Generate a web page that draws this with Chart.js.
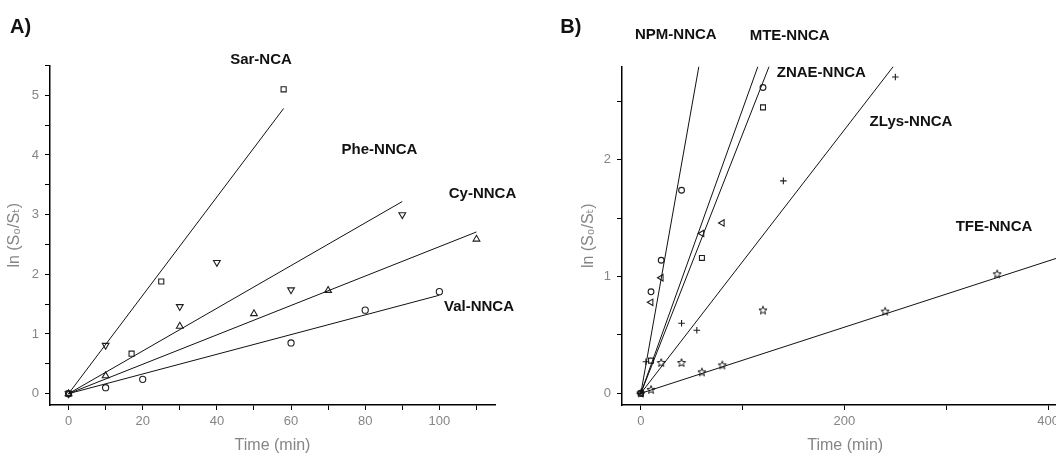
<!DOCTYPE html>
<html>
<head>
<meta charset="utf-8">
<script src="https://cdn.jsdelivr.net/npm/chart.js@4.4.1/dist/chart.umd.min.js"></script>
<style>
  html, body { margin: 0; padding: 0; background: #fff; overflow: hidden; width: 1056px; height: 455px; }
  #wrapA { position: absolute; left: 0; top: 0; width: 528px; height: 455px; }
  #wrapB { position: absolute; left: 528px; top: 0; width: 560px; height: 455px; }
  canvas { display: block; }
</style>
</head>
<body>
<div id="wrapA"><canvas id="chartA" width="528" height="455"></canvas></div>
<div id="wrapB"><canvas id="chartB" width="560" height="455"></canvas></div>
<script>
// ---------- Panel A: first-order kinetics of four monomers ----------
const namesA = ['Sar-NCA', 'Phe-NNCA', 'Cy-NNCA', 'Val-NNCA'];
// measured points [time (min), ln(S0/St)]
const sarNCA  = [[0, 0], [17, 0.67], [25, 1.88], [58, 5.10]];
const pheNNCA = [[0, 0], [10, 0.81], [30, 1.46], [40, 2.20], [60, 1.74], [90, 3.00]];
const cyNNCA  = [[0, 0], [10, 0.30], [30, 1.13], [50, 1.34], [70, 1.73], [110, 2.59]];
const valNNCA = [[0, 0], [10, 0.10], [20, 0.24], [60, 0.85], [80, 1.40], [100, 1.71]];
// linear fits (start, end)
const sarFit = [[0, 0], [58, 4.78]];
const pheFit = [[0, 0], [90, 3.22]];
const cyFit  = [[0, 0], [110, 2.71]];
const valFit = [[0, 0], [100, 1.65]];
// axis ticks
const xTicksA = [0, 10, 20, 30, 40, 50, 60, 70, 80, 90, 100, 110];
const xLabelsA = [0, 20, 40, 60, 80, 100];
const yTicksA = [0, 0.5, 1, 1.5, 2, 2.5, 3, 3.5, 4, 4.5, 5, 5.5];
const yLabelsA = [0, 1, 2, 3, 4, 5];

// ---------- Panel B: first-order kinetics of five monomers ----------
const namesB = ['NPM-NNCA', 'MTE-NNCA', 'ZNAE-NNCA', 'ZLys-NNCA', 'TFE-NNCA'];
const npmNNCA   = [[0, 0], [10, 0.87], [20, 1.14], [40, 1.74]];
const mteNNCA   = [[0, 0], [10, 0.78], [20, 0.99], [60, 1.37], [80, 1.46]];
const znaeNNCA  = [[0, 0], [10, 0.28], [60, 1.16], [120, 2.45]];
const znaeRun2  = [[120, 2.62]];
const zlysNNCA  = [[0, 0], [5, 0.27], [40, 0.60], [55, 0.54], [140, 1.82], [250, 2.71]];
const tfeNNCA   = [[0, 0], [10, 0.03], [20, 0.26], [40, 0.26], [60, 0.18], [80, 0.24], [120, 0.71], [240, 0.70], [350, 1.02]];
const npmFit  = [[0, 0], [57, 2.8]];
const mteFit  = [[0, 0], [115, 2.8]];
const znaeFit = [[0, 0], [126, 2.8]];
const zlysFit = [[0, 0], [248, 2.8]];
const tfeFit  = [[0, 0], [420, 1.19]];
const xTicksB = [0, 100, 200, 300, 400];
const xLabelsB = [0, 200, 400];
const yTicksB = [0, 0.5, 1, 1.5, 2, 2.5];
const yLabelsB = [0, 1, 2];

const yTitle = 'ln (S\u2080/S\u209C)';
const xTitle = 'Time (min)';

// ---------- shared styling ----------
const FONT = "'Liberation Sans', Arial, 'DejaVu Sans', sans-serif";
const GREY = '#858585';
const INK = '#111111';

const toXY = arr => arr.map(([x, y]) => ({ x, y }));

// hollow five-pointed star marker
function makeStar(outer, inner) {
  const s = Math.ceil(outer * 2 + 3);
  const c = document.createElement('canvas');
  c.width = s; c.height = s;
  const g = c.getContext('2d');
  g.translate(s / 2, s / 2);
  g.beginPath();
  for (let i = 0; i < 10; i++) {
    const r = i % 2 === 0 ? outer : inner;
    const a = -Math.PI / 2 + i * Math.PI / 5;
    const px = Math.cos(a) * r, py = Math.sin(a) * r;
    if (i === 0) g.moveTo(px, py); else g.lineTo(px, py);
  }
  g.closePath();
  g.lineWidth = 1;
  g.strokeStyle = '#1a1a1a';
  g.stroke();
  return c;
}
const starMarker = makeStar(4.3, 1.8);

function pointSet(label, data, style, radius, rotation) {
  return {
    label, data: toXY(data), showLine: false,
    pointStyle: style, pointRadius: radius, pointHoverRadius: radius,
    pointRotation: rotation || 0,
    pointBorderColor: '#1e1e1e', pointBorderWidth: 1.1,
    pointBackgroundColor: 'rgba(0,0,0,0)'
  };
}
function fitLine(label, data) {
  return {
    label, data: toXY(data), showLine: true,
    borderColor: INK, borderWidth: 1, pointRadius: 0, pointHoverRadius: 0,
    fill: false, tension: 0
  };
}

// free text: series names and panel letters
const panelText = {
  id: 'panelText',
  afterDraw(chart, args, opts) {
    const ctx = chart.ctx;
    ctx.save();
    ctx.textAlign = 'center';
    ctx.textBaseline = 'middle';
    for (const t of opts.items || []) {
      ctx.font = t.font;
      ctx.fillStyle = t.color || '#111';
      ctx.fillText(t.text, t.x, t.y);
    }
    ctx.restore();
  }
};

function axis(opts) {
  const { min, max, ticks, labels, title, titlePad, fitSize, horizontal } = opts;
  return {
    type: 'linear', min, max,
    afterBuildTicks: s => { s.ticks = ticks.map(v => ({ value: v })); },
    afterFit: s => { if (horizontal) s.height = fitSize; else s.width = fitSize; },
    grid: { display: true, drawOnChartArea: false, drawTicks: true, tickLength: 5, tickColor: '#000', tickWidth: 1 },
    border: { display: true, color: '#000', width: 1.5 },
    ticks: {
      autoSkip: false, maxRotation: 0, minRotation: 0,
      padding: horizontal ? 4 : 6,
      color: GREY, font: { family: FONT, size: 13 },
      callback: v => labels.some(l => Math.abs(l - v) < 1e-9) ? String(v) : ''
    },
    title: {
      display: true, text: title, color: GREY,
      font: { family: FONT, size: 16 },
      padding: titlePad
    }
  };
}

function baseOptions(layoutPad, scales, items) {
  return {
    responsive: false, animation: false, devicePixelRatio: 1,
    layout: { padding: layoutPad, autoPadding: false },
    plugins: { legend: { display: false }, tooltip: { enabled: false }, panelText: { items } },
    scales
  };
}

const boldLabel = "bold 15px " + FONT;
const letterFont = "bold 20px " + FONT;

// ---------- Chart A ----------
new Chart(document.getElementById('chartA'), {
  type: 'scatter',
  data: {
    datasets: [
      fitLine(namesA[0] + ' fit', sarFit),
      fitLine(namesA[1] + ' fit', pheFit),
      fitLine(namesA[2] + ' fit', cyFit),
      fitLine(namesA[3] + ' fit', valFit),
      pointSet(namesA[0], sarNCA, 'rect', 3.6),
      pointSet(namesA[1], pheNNCA, 'triangle', 3.9, 180),
      pointSet(namesA[2], cyNNCA, 'triangle', 3.9, 0),
      pointSet(namesA[3], valNNCA, 'circle', 3.1)
    ]
  },
  options: baseOptions(
    { left: 0, top: 65.5, right: 33, bottom: 0 },
    {
      x: axis({ min: -5, max: 115, ticks: xTicksA, labels: xLabelsA, title: xTitle,
                titlePad: { top: 0, bottom: 0 }, fitSize: 50, horizontal: true }),
      y: axis({ min: -0.19, max: 5.5, ticks: yTicksA, labels: yLabelsA, title: yTitle,
                titlePad: { top: 5.4, bottom: 0 }, fitSize: 50, horizontal: false })
    },
    [
      { text: 'A)', x: 20.5, y: 27, font: letterFont },
      { text: namesA[0], x: 261, y: 60, font: boldLabel },
      { text: namesA[1], x: 379.5, y: 150, font: boldLabel },
      { text: namesA[2], x: 482.5, y: 194, font: boldLabel },
      { text: namesA[3], x: 479, y: 307, font: boldLabel }
    ]
  ),
  plugins: [panelText]
});

// ---------- Chart B ----------
new Chart(document.getElementById('chartB'), {
  type: 'scatter',
  data: {
    datasets: [
      fitLine(namesB[0] + ' fit', npmFit),
      fitLine(namesB[1] + ' fit', mteFit),
      fitLine(namesB[2] + ' fit', znaeFit),
      fitLine(namesB[3] + ' fit', zlysFit),
      fitLine(namesB[4] + ' fit', tfeFit),
      pointSet(namesB[0], npmNNCA, 'circle', 2.9),
      pointSet(namesB[1], mteNNCA, 'triangle', 3.7, -90),
      pointSet(namesB[2], znaeNNCA, 'rect', 3.5),
      pointSet(namesB[2] + ' (2)', znaeRun2, 'circle', 2.9),
      pointSet(namesB[3], zlysNNCA, 'cross', 3.3),
      pointSet(namesB[4], tfeNNCA, starMarker, 4)
    ]
  },
  options: baseOptions(
    { left: 44, top: 66.5, right: 19.6, bottom: 0 },
    {
      x: axis({ min: -18.5, max: 420, ticks: xTicksB, labels: xLabelsB, title: xTitle,
                titlePad: { top: 0, bottom: 0 }, fitSize: 50, horizontal: true }),
      y: axis({ min: -0.1, max: 2.8, ticks: yTicksB, labels: yLabelsB, title: yTitle,
                titlePad: { top: 7.4, bottom: 0 }, fitSize: 50, horizontal: false })
    },
    [
      { text: 'B)', x: 42.8, y: 27, font: letterFont },
      { text: namesB[0], x: 147.8, y: 35, font: boldLabel },
      { text: namesB[1], x: 261.7, y: 35.7, font: boldLabel },
      { text: namesB[2], x: 293.3, y: 73, font: boldLabel },
      { text: namesB[3], x: 383, y: 122.3, font: boldLabel },
      { text: namesB[4], x: 466, y: 227.3, font: boldLabel }
    ]
  ),
  plugins: [panelText]
});
</script>
</body>
</html>
